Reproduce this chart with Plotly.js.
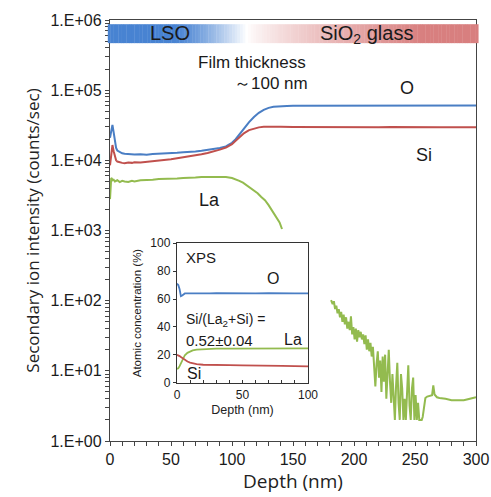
<!DOCTYPE html>
<html>
<head>
<meta charset="utf-8">
<script src="https://cdn.plot.ly/plotly-3.0.1.min.js"></script>
<style>html,body{margin:0;padding:0;background:#fff;}#chart{width:491px;height:497px;}</style>
</head>
<body>
<div id="chart"></div>
<script>
// ---- Main SIMS depth profile data ----
var depthO = [0,1,2,3,4,5,6,8,10,12,15,18,20,25,30,35,40,45,50,55,60,65,70,75,80,85,90,95,100,103,106,110,114,118,122,126,130,134,138,145,150,160,170,180,190,200,210,220,230,240,250,260,270,280,290,300];
var intensityO = [2.1e4,2.6e4,3.2e4,2.5e4,1.8e4,1.5e4,1.38e4,1.3e4,1.26e4,1.24e4,1.22e4,1.2e4,1.21e4,1.22e4,1.2e4,1.23e4,1.24e4,1.23e4,1.27e4,1.28e4,1.3e4,1.31e4,1.34e4,1.37e4,1.41e4,1.44e4,1.5e4,1.58e4,1.78e4,2.0e4,2.35e4,2.9e4,3.5e4,4.15e4,4.75e4,5.25e4,5.6e4,5.8e4,5.9e4,5.95e4,6.0e4,6.0e4,6.02e4,5.98e4,6.0e4,6.03e4,6.0e4,6.02e4,6.05e4,6.0e4,6.03e4,6.05e4,6.02e4,6.05e4,6.08e4,6.05e4];

var depthSi = [0,1,2,3,4,5,6,8,10,12,15,18,20,25,30,35,40,45,50,55,60,65,70,75,80,85,90,95,100,103,106,110,114,118,122,126,130,135,140,150,160,170,180,190,200,210,220,230,240,250,260,270,280,290,300];
var intensitySi = [8.5e3,1.2e4,1.65e4,1.35e4,1.1e4,1.0e4,9.6e3,9.3e3,9.2e3,9.1e3,9.3e3,9.2e3,9.4e3,9.3e3,9.5e3,9.7e3,9.9e3,1.0e4,1.04e4,1.07e4,1.1e4,1.13e4,1.17e4,1.22e4,1.27e4,1.33e4,1.42e4,1.52e4,1.7e4,1.9e4,2.15e4,2.45e4,2.7e4,2.85e4,2.95e4,3.0e4,3.02e4,3.0e4,3.0e4,2.98e4,2.97e4,3.0e4,2.98e4,2.96e4,2.99e4,2.97e4,2.95e4,2.98e4,2.96e4,2.95e4,2.97e4,2.95e4,2.96e4,2.94e4,2.95e4];

var depthLa = [0,0.5,1,1.5,2,3,4,5,6,8,10,12,15,18,20,25,30,35,40,45,50,55,60,65,70,75,80,85,90,95,100,103,106,109,112,115,118,121,124,127,130,133,136,139,141];
var intensityLa = [2.8e3,3.8e3,5.6e3,5.5e3,5.2e3,5.3e3,5.0e3,5.1e3,5.2e3,4.9e3,5.1e3,5.0e3,4.9e3,5.1e3,5.0e3,5.2e3,5.2e3,5.3e3,5.4e3,5.4e3,5.5e3,5.5e3,5.6e3,5.6e3,5.7e3,5.8e3,5.8e3,5.9e3,5.8e3,5.8e3,5.6e3,5.4e3,5.1e3,4.8e3,4.4e3,4.1e3,3.7e3,3.4e3,3.0e3,2.7e3,2.3e3,1.9e3,1.6e3,1.3e3,1.05e3];

var depthLaTail = [181.2,182.5,183.5,184.5,185.5,186.5,187.5,188.5,189.5,190.5,191.5,192.5,193.5,194.5,195.5,196.5,197.5,198.5,199.5,200.5,201.5,202.5,203.5,204.5,205.5,206.5,207.5,208.5,209.5,210.5,211.5,212.5,213.5,214.5,215.5,216.5,217.5,218.5,219.5,220.5,221.5,222.5,223.5,224.5,225.5,226.5,227.5,228.5,229.5,230.5,231.5,232.5,233.5,234.5,235.5,236.5,237.5,238.5,239.5,240.5,241.5,242.5,243.5,244.5,245.5,246.5,247.5,248.5,249.5,250.5,251.5,252.5,253.5,254.5,255.5,256.3,257.5,258.5,260,262,264,265,266,268,270,275,280,285,290,295,300];
var intensityLaTail = [102,89,98,76,85,66,76,58,69,50,63,46,58,40,50,38,60,33,42,28,40,26,38,30,36,28,33,24,32,20,28,19,25,16,22,11,6,12.6,19,8,14,5,16,7,17,4,11,20,7,3.5,9,4.5,2,6.3,13,3.5,2,9,5.6,2,4,2,7,12,3.2,2,5.6,8,2,4.5,2,3.5,2,2,2,2.2,3.5,4.1,4.3,4.4,4.5,6.2,4.6,4.2,4.1,4.0,3.8,3.8,3.8,4.0,4.2];

// ---- Inset XPS data ----
var xpsDepth = [0,1,2,3,4,5,6,8,10,12,15,20,25,30,40,50,60,70,80,90,100];
var xpsO  = [71,70,67,62,62.5,63.5,64,64,64.2,64,64,63.8,64,64.2,64,63.8,64,64.2,63.9,64,64];
var xpsLa = [10,10.5,12,14,16.5,18.5,19.8,21.5,22.5,23.2,23.8,24.2,24.4,24.5,24.5,24.6,24.6,24.7,24.6,24.7,24.7];
var xpsSi = [20,19.8,19.2,18.5,17.8,17,16.3,15.3,14.5,14,13.5,13,12.8,12.8,12.7,12.6,12.6,12.3,12.2,12,11.8];

// ---- Tick labels ----
var yMajorVals = [1,10,100,1000,10000,100000,1000000];
var yMajorText = ['1.E+00','1.E+01','1.E+02','1.E+03','1.E+04','1.E+05','1.E+06'];

var cBlue = '#4a7ec4', cRed = '#c0504d', cGreen = '#93bb4f';

// minor log ticks between decades
var yMinorVals = [];
for (var d = 0; d < yMajorVals.length - 1; d++) {
  for (var m = 2; m <= 9; m++) yMinorVals.push(yMajorVals[d] * m);
}

var traces = [
  {x: depthO, y: intensityO, mode: 'lines', line: {color: cBlue, width: 2}, xaxis: 'x', yaxis: 'y', hoverinfo: 'skip'},
  {x: depthSi, y: intensitySi, mode: 'lines', line: {color: cRed, width: 2}, xaxis: 'x', yaxis: 'y', hoverinfo: 'skip'},
  {x: depthLa, y: intensityLa, mode: 'lines', line: {color: cGreen, width: 2}, xaxis: 'x', yaxis: 'y', hoverinfo: 'skip'},
  {x: depthLaTail, y: intensityLaTail, mode: 'lines', line: {color: cGreen, width: 2}, xaxis: 'x', yaxis: 'y', hoverinfo: 'skip'},
  {x: xpsDepth, y: xpsO, mode: 'lines', line: {color: cBlue, width: 1.8}, xaxis: 'x2', yaxis: 'y2', hoverinfo: 'skip'},
  {x: xpsDepth, y: xpsLa, mode: 'lines', line: {color: cGreen, width: 1.8}, xaxis: 'x2', yaxis: 'y2', hoverinfo: 'skip'},
  {x: xpsDepth, y: xpsSi, mode: 'lines', line: {color: cRed, width: 1.8}, xaxis: 'x2', yaxis: 'y2', hoverinfo: 'skip'}
];

// gradient bar (LSO -> SiO2 glass)
function lerp(a, b, t) { return Math.round(a + (b - a) * t); }
var blue = [72,131,210], pink = [216,127,127], white = [255,255,255];
var shapes = [];
var N = 140, bx0 = -0.006, bx1 = 1.006;
for (var i = 0; i < N; i++) {
  var p = (i + 0.5) / N, c;
  if (p < 0.18) c = blue;
  else if (p < 0.375) { var t = Math.pow((p - 0.18) / (0.375 - 0.18), 1.3); c = [lerp(blue[0],white[0],t), lerp(blue[1],white[1],t), lerp(blue[2],white[2],t)]; }
  else if (p < 0.85) { var t2 = Math.pow((p - 0.375) / (0.85 - 0.375), 0.8); c = [lerp(white[0],pink[0],t2), lerp(white[1],pink[1],t2), lerp(white[2],pink[2],t2)]; }
  else c = pink;
  shapes.push({type: 'rect', xref: 'paper', yref: 'paper', x0: bx0 + (bx1 - bx0) * i / N, x1: bx0 + (bx1 - bx0) * (i + 1) / N + 0.001,
    y0: 0.945, y1: 0.990, line: {width: 0}, fillcolor: 'rgb(' + c.join(',') + ')'});
}

var fArial = 'Liberation Sans, Arial, sans-serif';
var fTitle = 'Open Sans, Noto Sans, sans-serif';
function ann(xref, yref, x, y, text, size, xanchor) {
  return {xref: xref, yref: yref, x: x, y: y, text: text, showarrow: false,
    xanchor: xanchor || 'center', yanchor: 'middle',
    font: {family: fArial, size: size, color: '#1a1a1a'}};
}
var annotations = [
  ann('paper', 'paper', 0.163, 0.969, 'LSO', 20),
  ann('paper', 'paper', 0.70, 0.966, 'SiO<sub>2</sub> glass', 20),
  ann('paper', 'paper', 0.388, 0.900, 'Film thickness', 17),
  ann('paper', 'paper', 0.44, 0.850, '～100 nm', 17),
  ann('x', 'y', 243.6, 5.03, 'O', 18),
  ann('x', 'y', 257.5, 4.077, 'Si', 18),
  ann('x', 'y', 81.7, 3.436, 'La', 18),
  ann('x2', 'y2', 5, 90, 'XPS', 15, 'left'),
  ann('x2', 'y2', 73, 75, 'O', 16),
  ann('x2', 'y2', 5, 45, 'Si/(La<sub>2</sub>+Si) =', 14, 'left'),
  ann('x2', 'y2', 5, 30.5, '0.52±0.04', 15, 'left'),
  ann('x2', 'y2', 88.5, 31.4, 'La', 16),
  ann('x2', 'y2', 13, 6.4, 'Si', 16)
];

var layout = {
  width: 491, height: 497,
  margin: {l: 110, r: 15, t: 20, b: 56, pad: 0},
  paper_bgcolor: '#ffffff', plot_bgcolor: '#ffffff',
  showlegend: false,
  xaxis: {
    domain: [0, 1], range: [0, 300], anchor: 'y',
    tickmode: 'linear', tick0: 0, dtick: 50, tickangle: 0,
    ticks: 'outside', ticklen: 4, tickcolor: '#444', tickwidth: 1,
    minor: {tickmode: 'linear', tick0: 0, dtick: 10, ticks: 'outside', ticklen: 4, tickcolor: '#444', showgrid: false},
    showline: true, mirror: true, linecolor: '#444', linewidth: 1.2,
    showgrid: false, zeroline: false,
    tickfont: {family: fArial, size: 16, color: '#1a1a1a'},
    title: {text: 'Depth (nm)', font: {family: fTitle, size: 19, color: '#222'}, standoff: 6}
  },
  yaxis: {
    domain: [0, 1], type: 'log', range: [0, 6], anchor: 'x',
    tickmode: 'array', tickvals: yMajorVals, ticktext: yMajorText,
    ticks: 'outside', ticklen: 4, tickcolor: '#444', tickwidth: 1,
    minor: {tickmode: 'array', tickvals: yMinorVals, ticks: 'outside', ticklen: 4, tickcolor: '#444', showgrid: false},
    showline: true, mirror: true, linecolor: '#444', linewidth: 1.2,
    showgrid: false, zeroline: false,
    tickfont: {family: fArial, size: 16, color: '#1a1a1a'},
    title: {text: 'Secondary ion intensity (counts/sec)', font: {family: fTitle, size: 17, color: '#222'}, standoff: 6}
  },
  xaxis2: {
    domain: [0.183, 0.541], range: [0, 100], anchor: 'y2',
    tickmode: 'linear', tick0: 0, dtick: 50, tickangle: 0,
    ticks: 'inside', ticklen: 3, tickcolor: '#333',
    minor: {tickmode: 'linear', tick0: 0, dtick: 10, ticks: 'inside', ticklen: 3, tickcolor: '#333', showgrid: false},
    showline: true, mirror: true, linecolor: '#333', linewidth: 1.2,
    showgrid: false, zeroline: false,
    tickfont: {family: fArial, size: 12, color: '#1a1a1a'},
    title: {text: 'Depth (nm)', font: {family: fArial, size: 12.5, color: '#222'}, standoff: 4}
  },
  yaxis2: {
    domain: [0.138, 0.470], range: [0, 100], anchor: 'x2',
    tickmode: 'array', tickvals: [0,20,40,60,80,100],
    ticks: 'outside', ticklen: 3, tickcolor: '#333',
    showline: true, mirror: true, linecolor: '#333', linewidth: 1.2,
    showgrid: false, zeroline: false,
    tickfont: {family: fArial, size: 12, color: '#1a1a1a'},
    title: {text: 'Atomic concentration (%)', font: {family: fArial, size: 11.5, color: '#222'}, standoff: 6}
  },
  shapes: shapes,
  annotations: annotations
};

Plotly.newPlot('chart', traces, layout, {displayModeBar: false, staticPlot: true});
</script>
</body>
</html>
